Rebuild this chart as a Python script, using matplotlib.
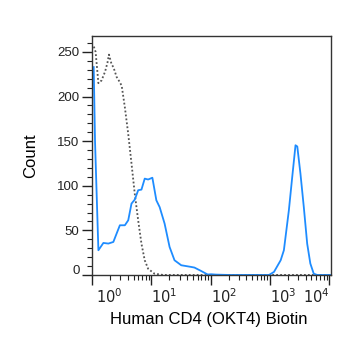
import matplotlib
matplotlib.use("Agg")
import matplotlib.pyplot as plt
import matplotlib.transforms as mtransforms
from matplotlib.ticker import MultipleLocator, LogLocator, NullFormatter, FixedLocator
import numpy as np

plt.rcParams["font.family"] = ["Liberation Sans", "DejaVu Sans"]

# 염색 샘플 (파란 실선): log10(강도), count
blue_log = [0.028, 0.05, 0.107, 0.191, 0.275, 0.359, 0.414, 0.469, 0.553, 0.61,
            0.665, 0.72, 0.778, 0.833, 0.888, 0.945, 1.017, 1.084, 1.14, 1.223,
            1.307, 1.39, 1.503, 1.671, 1.726, 1.838, 1.95, 2.006, 2.09, 2.31,
            2.983, 3.067, 3.18, 3.234, 3.318, 3.375, 3.43, 3.46, 3.513, 3.57,
            3.627, 3.68, 3.737, 3.794, 4.03]
blue_count = [233, 150, 27.7, 35.9, 35.2, 37, 46.4, 55.7, 55.7, 61.3,
              80, 84.5, 95, 95.7, 108, 107, 109, 83.7, 76, 57.6,
              31.4, 16.5, 10.9, 9, 8.3, 4.5, 0.5, 0.8, 0.4, 0,
              0, 3.4, 16.5, 27.7, 72.5, 110, 145.4, 144, 113.7, 76,
              35, 12.8, 1.5, 0, 0]

# 대조군 (회색 점선)
gray_log = [0.03, 0.06, 0.107, 0.16, 0.22, 0.26, 0.285, 0.33, 0.36, 0.414,
            0.469, 0.5, 0.553, 0.61, 0.665, 0.72, 0.778, 0.833, 0.888, 0.945,
            1.05, 1.2, 4.03]
gray_count = [256, 250, 215, 218, 228, 238, 247, 236, 233, 222,
              216, 212, 188, 158, 125, 91, 61, 35, 16.5, 7,
              1.5, 0, 0]

yticks = [0, 50, 100, 150, 200, 250]
xticks = [1, 10, 100, 1000, 10000]
xtick_labels = ["$10^{0}$", "$10^{1}$", "$10^{2}$", "$10^{3}$", "$10^{4}$"]

fig = plt.figure(figsize=(3.5, 3.45), dpi=100)
ax = fig.add_axes([0.263, 0.203, 0.683, 0.693])

ax.plot(10 ** np.array(gray_log), gray_count, color="#555555", lw=1.3,
        linestyle=(0, (1, 1.2)))
ax.plot(10 ** np.array(blue_log), blue_count, color="#1e8cff", lw=1.3)

ax.set_xscale("log")
ax.set_xlim(1.0, 10 ** 4.03)
ax.set_ylim(0, 268)

ax.xaxis.set_major_locator(FixedLocator(xticks))
ax.set_xticklabels(xtick_labels)
ax.xaxis.set_minor_locator(LogLocator(base=10, subs=np.arange(2, 10)))
ax.xaxis.set_minor_formatter(NullFormatter())
ax.yaxis.set_major_locator(FixedLocator(yticks))
ax.yaxis.set_minor_locator(MultipleLocator(10))

ax.tick_params(which="major", direction="out", length=7.5, width=1, labelsize=9.5,
               pad=1.5, top=False, right=False, colors="#222222")
ax.tick_params(which="minor", direction="out", length=3.5, width=0.8,
               top=False, right=False, colors="#222222")
ax.tick_params(axis="x", which="major", labelsize=10.5, pad=1.5)

for s in ax.spines.values():
    s.set_linewidth(1)
    s.set_color("#333333")

# x 라벨 정렬 (레퍼런스처럼 오른쪽으로 붙임)
xl = ax.get_xticklabels()
for i, t in enumerate(xl):
    if i == len(xl) - 1:
        t.set_ha("right")
    else:
        t.set_ha("left")
off0 = mtransforms.ScaledTranslation(4 / 100, 0, fig.dpi_scale_trans)
xl[0].set_transform(xl[0].get_transform() + off0)

# y=0 라벨 약간 위로
yl = ax.get_yticklabels()
offy = mtransforms.ScaledTranslation(0, 5 / 100, fig.dpi_scale_trans)
yl[0].set_transform(yl[0].get_transform() + offy)

ax.set_ylabel("Count", fontsize=12)
ax.yaxis.set_label_coords(-0.225, 0.5)
ax.set_xlabel("Human CD4 (OKT4) Biotin", fontsize=12)
ax.xaxis.set_label_coords(0.49, -0.155)
ax.xaxis.label.set_va("top")

fig.savefig("out.png", dpi=100)
